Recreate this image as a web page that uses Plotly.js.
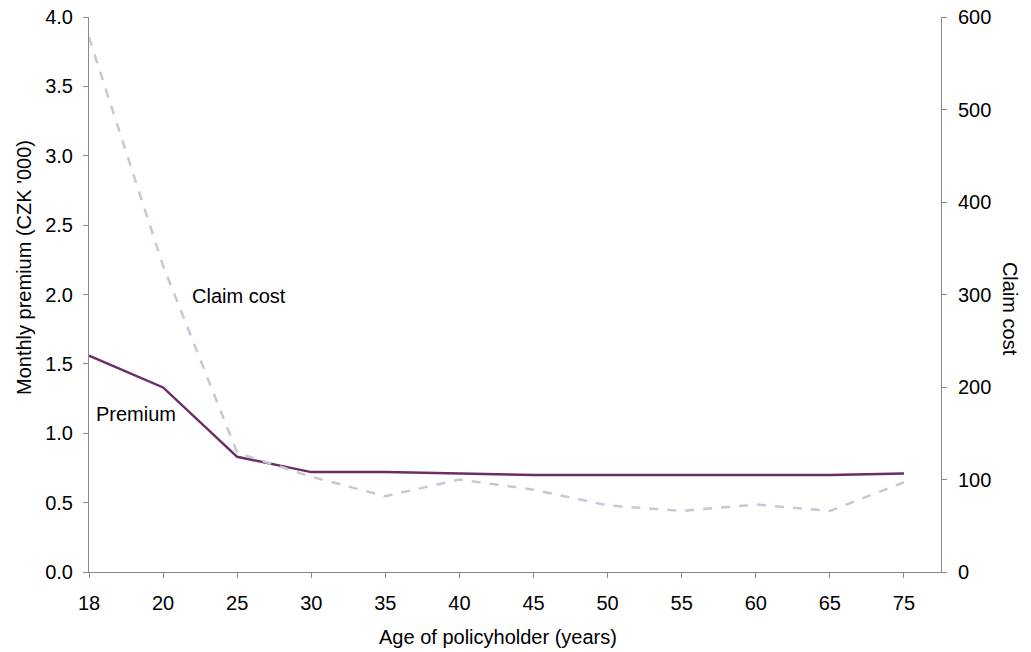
<!DOCTYPE html>
<html>
<head>
<meta charset="utf-8">
<script src="https://cdn.plot.ly/plotly-3.0.1.min.js"></script>
<style>html,body{margin:0;padding:0;background:#fff;}#chart{width:1031px;height:652px;}</style>
</head>
<body>
<div id="chart"></div>
<script>
var ages = ["18","20","25","30","35","40","45","50","55","60","65","75"];
var premium = [1.56, 1.33, 0.83, 0.72, 0.72, 0.71, 0.70, 0.70, 0.70, 0.70, 0.70, 0.71];
var claimCost = [578, 331, 129, 103, 82, 100, 89, 72, 66, 73, 66, 97];
var leftTicks = [0, 0.5, 1.0, 1.5, 2.0, 2.5, 3.0, 3.5, 4.0];
var rightTicks = [0, 100, 200, 300, 400, 500, 600];

var font = {family: "Liberation Sans, Arial, sans-serif", size: 20, color: "#000"};

var traces = [
  {x: ages, y: claimCost, yaxis: "y2", type: "scatter", mode: "lines", name: "Claim cost",
   line: {color: "#c5c8d7", width: 2.5, dash: "dash"}},
  {x: ages, y: premium, type: "scatter", mode: "lines", name: "Premium",
   line: {color: "#6b2d64", width: 2.5}}
];

var layout = {
  width: 1031, height: 652,
  margin: {l: 89, r: 90, t: 17, b: 80},
  paper_bgcolor: "#fff", plot_bgcolor: "#fff",
  showlegend: false,
  font: font,
  xaxis: {
    type: "category", range: [0, 11.5],
    showgrid: false, zeroline: false,
    showline: true, linecolor: "#898989", linewidth: 1,
    ticks: "outside", ticklen: 5, tickcolor: "#898989",
    tickfont: font, ticklabelstandoff: 8
  },
  yaxis: {
    range: [0, 4], tickvals: leftTicks, ticktext: leftTicks.map(function(v){return v.toFixed(1);}),
    showgrid: false, zeroline: false,
    showline: true, linecolor: "#898989", linewidth: 1,
    ticks: "outside", ticklen: 5, tickcolor: "#898989",
    tickfont: font, ticklabelstandoff: 6
  },
  yaxis2: {
    overlaying: "y", side: "right", anchor: "x",
    range: [0, 600], tickvals: rightTicks,
    showgrid: false, zeroline: false,
    showline: true, linecolor: "#898989", linewidth: 1,
    ticks: "outside", ticklen: 5, tickcolor: "#898989",
    tickfont: font, ticklabelstandoff: 7
  },
  annotations: [
    {text: "Age of policyholder (years)", x: 0.480, y: -0.117, xref: "paper", yref: "paper", xanchor: "center", yanchor: "middle", showarrow: false, font: font},
    {text: "Monthly premium (CZK '000)", x: -0.0763, y: 0.5495, xref: "paper", yref: "paper", xanchor: "center", yanchor: "middle", textangle: -90, showarrow: false, font: font},
    {text: "Claim cost", x: 1.081, y: 0.474, xref: "paper", yref: "paper", xanchor: "center", yanchor: "middle", textangle: 90, showarrow: false, font: font},
    {text: "Claim cost", x: 1.36, y: 1.99, xref: "x", yref: "y", xanchor: "left", yanchor: "middle", showarrow: false, font: font},
    {text: "Premium", x: 0.07, y: 1.14, xref: "x", yref: "y", xanchor: "left", yanchor: "middle", showarrow: false, font: font}
  ]
};

Plotly.newPlot("chart", traces, layout, {displayModeBar: false, staticPlot: true});
</script>
</body>
</html>
